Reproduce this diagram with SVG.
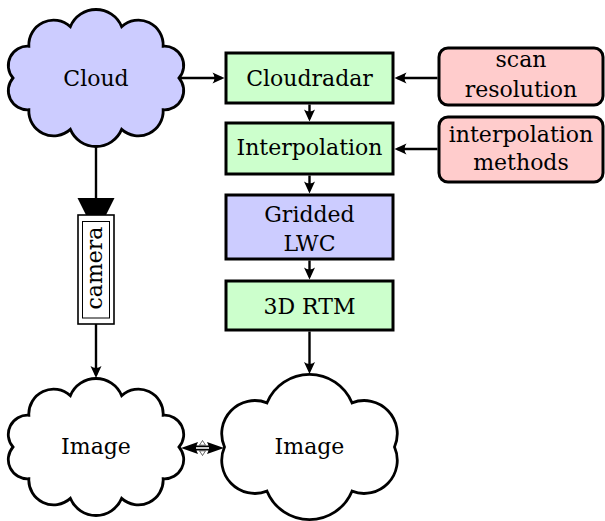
<svg xmlns="http://www.w3.org/2000/svg" width="605" height="521" viewBox="0 0 605 521">
  <style>
    .box { stroke: #000; stroke-width: 3; }
    .green { fill: #ccffcc; }
    .blue { fill: #ccccff; }
    .pink { fill: #ffcccc; }
    .cloud { stroke: #000; stroke-width: 2.8; stroke-linejoin: miter; }
    .conn { fill: none; stroke: #000; stroke-width: 2.4; }
    .lbl { font-family: 'DejaVu Serif', 'Liberation Serif', serif; font-size: 22px; text-anchor: middle; fill: #000; }
  </style>
  <defs>
    <marker id="arrow" markerUnits="userSpaceOnUse" markerWidth="16" markerHeight="14" viewBox="-14 -7 16 14" refX="-3" refY="0" orient="auto">
      <path d="M0,0 L-12,-5.5 Q-8,0 -12,5.5 Z" fill="#000"/>
    </marker>
    <!-- ten-puff cloud outline centred on the origin -->
    <path id="cloud10" d="M83,0 A19.2,19.2 0 0 0 67.15,-31.74 A24.8,24.8 0 0 0 25.65,-51.36 A27.76,27.76 0 0 0 -25.65,-51.36 A24.8,24.8 0 0 0 -67.15,-31.74 A19.2,19.2 0 0 0 -83,0 A19.2,19.2 0 0 0 -67.15,31.74 A24.8,24.8 0 0 0 -25.65,51.36 A27.76,27.76 0 0 0 25.65,51.36 A24.8,24.8 0 0 0 67.15,31.74 A19.2,19.2 0 0 0 83,0 Z"/>
  </defs>

  <!-- connectors -->
  <g id="connectors">
    <path class="conn" d="M179,78 H221.5" marker-end="url(#arrow)"/>
    <path class="conn" d="M437.5,78 H397.5" marker-end="url(#arrow)"/>
    <path class="conn" d="M437.5,149 H397.5" marker-end="url(#arrow)"/>
    <path class="conn" d="M309.5,104.5 V118.5" marker-end="url(#arrow)"/>
    <path class="conn" d="M309.5,175.5 V190.5" marker-end="url(#arrow)"/>
    <path class="conn" d="M309.5,260.5 V276.5" marker-end="url(#arrow)"/>
    <path class="conn" d="M309.5,331.5 V371" marker-end="url(#arrow)"/>
    <path class="conn" d="M96,146.5 V198" stroke-width="3"/>
    <path class="conn" d="M96,324 V375" marker-end="url(#arrow)"/>
    <!-- double-lined two-way arrow between the two images -->
    <g id="compare">
      <path d="M181,448 L198,442 Q194.5,448 198,454 Z" fill="#000"/>
      <path d="M224,448 L207,442 Q210.5,448 207,454 Z" fill="#000"/>
      <path d="M196,448 H209" stroke="#000" stroke-width="5" fill="none"/>
      <path d="M196,448 H209" stroke="#fff" stroke-width="1.6" fill="none"/>
      <path d="M202.5,440.5 L205.5,445.2 H199.5 Z M202.5,455.5 L205.5,450.8 H199.5 Z" fill="#fff" stroke="#000" stroke-width="0.6"/>
    </g>
  </g>

  <g id="cloud">
    <use href="#cloud10" x="96" y="78" class="cloud blue"/>
    <text class="lbl" x="96" y="86">Cloud</text>
  </g>

  <g id="cloudradar">
    <rect class="box green" x="226" y="53" width="167" height="50"/>
    <text class="lbl" x="309.5" y="86">Cloudradar</text>
  </g>

  <g id="interpolation">
    <rect class="box green" x="226" y="123" width="167" height="51"/>
    <text class="lbl" x="309.5" y="155">Interpolation</text>
  </g>

  <g id="gridded-lwc">
    <rect class="box blue" x="226" y="195" width="167" height="64"/>
    <text class="lbl" x="309.5" y="222">Gridded</text>
    <text class="lbl" x="309.5" y="251">LWC</text>
  </g>

  <g id="rtm">
    <rect class="box green" x="226" y="281" width="167" height="49"/>
    <text class="lbl" x="309.5" y="314">3D RTM</text>
  </g>

  <g id="scan-resolution">
    <rect class="box pink" x="439" y="48" width="164" height="57" rx="9"/>
    <text class="lbl" x="521" y="67">scan</text>
    <text class="lbl" x="521" y="97">resolution</text>
  </g>

  <g id="interpolation-methods">
    <rect class="box pink" x="439" y="117" width="164" height="65" rx="9"/>
    <text class="lbl" x="521" y="142">interpolation</text>
    <text class="lbl" x="521" y="170">methods</text>
  </g>

  <g id="camera">
    <polygon points="77.5,198 114.5,198 106,215 86,215" fill="#000"/>
    <rect x="78" y="215" width="36" height="109" fill="#fff" stroke="#000" stroke-width="1.6"/>
    <rect x="82.5" y="221.5" width="27" height="96.5" fill="none" stroke="#000" stroke-width="1"/>
    <text class="lbl" transform="translate(102,268) rotate(-90)" x="0" y="0">camera</text>
  </g>

  <g id="image-camera">
    <use href="#cloud10" x="96" y="447" class="cloud" fill="#fff"/>
    <text class="lbl" x="96" y="454">Image</text>
  </g>

  <g id="image-rtm">
    <path class="cloud" fill="#fff" d="M394.5,447 A33.17,33.17 0 0 0 352,402.83 A46,46 0 0 0 267,402.83 A33.17,33.17 0 0 0 224.5,447 A33.17,33.17 0 0 0 267,491.17 A46,46 0 0 0 352,491.17 A33.17,33.17 0 0 0 394.5,447 Z"/>
    <text class="lbl" x="309.5" y="454">Image</text>
  </g>
</svg>
